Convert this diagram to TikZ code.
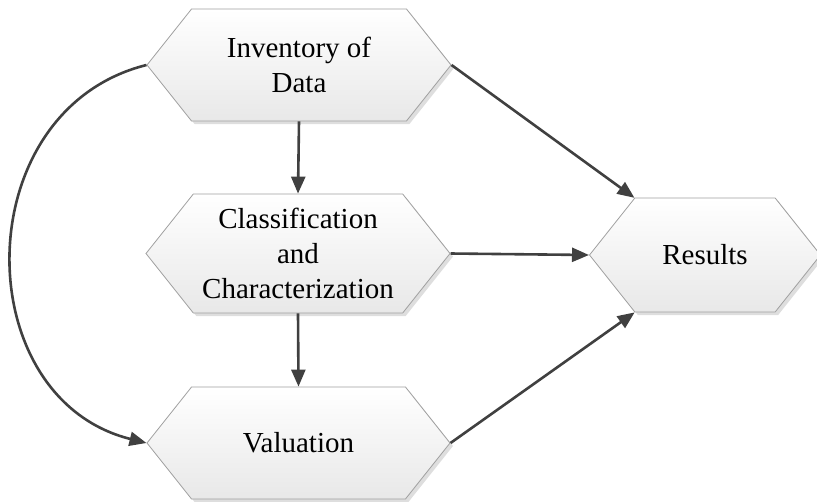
\documentclass[tikz,border=0pt]{standalone}
\usepackage{fontspec}
\setmainfont{Liberation Serif}
\usetikzlibrary{shapes.symbols,arrows.meta,shadows,calc}

\definecolor{linegray}{HTML}{404040}
\definecolor{edgegray}{HTML}{A0A0A0}
\definecolor{shadegray}{HTML}{E8E8E8}
\definecolor{shadowgray}{HTML}{DEDEDE}

\tikzset{
  hexbox/.style={
    shape=signal, signal to=west and east, signal pointer angle=103,
    draw=edgegray, line width=0.8pt,
    top color=white, bottom color=shadegray,
    drop shadow={shadow xshift=3pt, shadow yshift=-3pt, fill=shadowgray, opacity=1},
    inner sep=0pt, align=center,
    font=\fontsize{29}{35}\selectfont
  },
  conn/.style={draw=linegray, line width=2.6pt,
    -{Triangle[length=17pt,width=14pt,fill=linegray]}}
}

\begin{document}
\begin{tikzpicture}[x=1pt,y=-1pt]
  \useasboundingbox (0,0) rectangle (817,501);

  % process steps
  \node[hexbox, minimum width=304pt, minimum height=112pt] (inv) at (299,65) {Inventory of\\Data};
  \node[hexbox, minimum width=304pt, minimum height=119pt] (cls) at (298,253.5) {Classification\\and\\Characterization};
  \node[hexbox, minimum width=303pt, minimum height=112pt] (val) at (298.5,443) {Valuation};
  \node[hexbox, minimum width=231pt, minimum height=114pt] (res) at (705,255) {Results};

  % flow between the steps
  \draw[conn] (inv.south) -- (cls.north);
  \draw[conn] (cls.south) -- (val.north);
  \draw[conn] (inv.east) -- (res.north west);
  \draw[conn] (cls.east) -- (res.west);
  \draw[conn] (val.east) -- (res.south west);
  \draw[conn] (inv.west) .. controls +(-180,45) and +(-180,-45) .. (val.west);
\end{tikzpicture}
\end{document}
